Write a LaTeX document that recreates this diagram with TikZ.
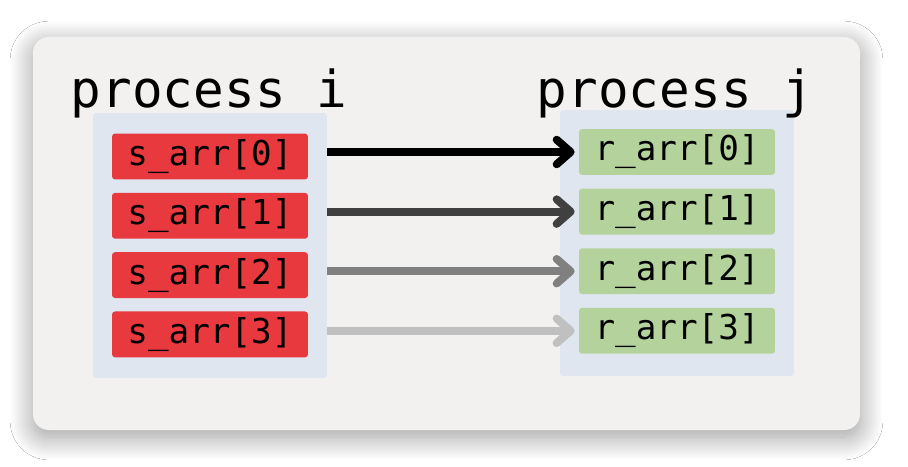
\documentclass[tikz,border=0pt]{standalone}
\usepackage{fontspec}
\setmonofont{DejaVu Sans Mono}
\usetikzlibrary{arrows.meta,positioning,shadows.blur}
\definecolor{sendred}{HTML}{E8393E}
\definecolor{recvgreen}{HTML}{B4D39C}
\definecolor{panelblue}{HTML}{E0E6F0}
\definecolor{framegray}{HTML}{F2F1EF}
\definecolor{arrowdark}{HTML}{404040}
\definecolor{arrowmid}{HTML}{808080}
\definecolor{arrowlight}{HTML}{C0C0C0}

\begin{document}
\begin{tikzpicture}[x=0.02cm, y=-0.02cm,
    panel/.style={fill=panelblue, rounded corners=1.7pt, minimum width=4.68cm, minimum height=5.3cm},
    sendbox/.style={fill=sendred, rounded corners=1.7pt, minimum width=3.92cm, minimum height=0.86cm, font=\ttfamily\fontsize{19.5}{20}\selectfont},
    recvbox/.style={fill=recvgreen, rounded corners=1.7pt, minimum width=3.92cm, minimum height=0.84cm, font=\ttfamily\fontsize{19.5}{20}\selectfont},
    title/.style={anchor=base, inner sep=0pt, font=\ttfamily\fontsize{29}{30}\selectfont},
    msg/.style={line width=4.5pt, -{Straight Barb[length=8pt, width=14pt, round]}, shorten >=2.3pt}]
    \useasboundingbox (0,0) rectangle (908,466);
    \fill[white] (0,0) rectangle (908,466);
    % frame with a soft shadow
    \fill[framegray, rounded corners=9pt, blur shadow={shadow xshift=0pt, shadow yshift=-4pt, shadow blur radius=13pt, shadow blur steps=30, shadow opacity=40}] (33,37) rectangle (860,430);
    \node[panel] (lp) at (210,245.5) {};
    \node[panel, minimum height=5.32cm] (rp) at (677,243) {};
    \node[title] (ti) at (209,108) {process i};
    \node[title] (tj) at (675,108) {process j};
    \foreach \i in {0,...,3} {
        \node[sendbox] (s\i) at (210,156.5+59.3*\i) {s\_arr[\i]};
        \node[recvbox] (r\i) at (677,152+59.6*\i) {r\_arr[\i]};
    }
    \foreach \i/\c in {0/black,1/arrowdark,2/arrowmid,3/arrowlight}
        \draw[msg, draw=\c] (lp.east |- r\i) -- (r\i.west);
\end{tikzpicture}
\end{document}
